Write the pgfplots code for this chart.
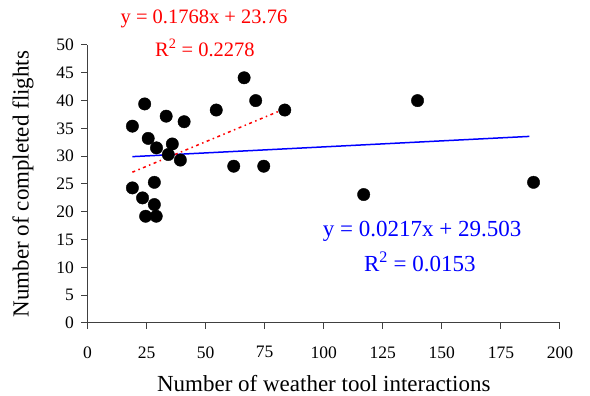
\documentclass[border=0pt]{standalone}
\usepackage{fontspec}
\setmainfont{Liberation Serif}
\usepackage{pgfplots}
\pgfplotsset{compat=1.18}
\begin{document}
\begin{tikzpicture}
\path[use as bounding box] (0,0) rectangle (590pt,396pt);
\begin{axis}[
  at={(87.5pt,73pt)}, anchor=origin,
  scale only axis, width=472.5pt, height=278pt,
  xmin=0, xmax=200, ymin=0, ymax=50,
  axis lines=left,
  axis line style={-, black!75, line width=1pt},
  xtick={0,25,...,200}, ytick={0,5,...,50},
  tick align=outside, major tick length=6pt,
  tick style={black!75, line width=1pt},
  /pgf/number format/assume math mode=true,
  tick label style={font=\fontsize{17.5}{20}\selectfont},
  xticklabel style={yshift=-14pt},
  yticklabel style={xshift=-4pt},
  xlabel={Number of weather tool interactions},
  ylabel={Number of completed flights},
  every axis x label/.style={at={(axis description cs:0.5,-0.2194)}, anchor=center, font=\fontsize{23}{26}\selectfont},
  every axis y label/.style={at={(axis description cs:-0.1365,0.5)}, rotate=90, anchor=center, font=\fontsize{23}{26}\selectfont},
  clip=false,
]
\addplot[only marks, mark=*, mark size=6.2pt, mark options={fill=black, draw=black}] coordinates {
(66.3,44.1) (71.2,40.0) (83.5,38.3) (54.5,38.3) (24.2,39.4) (33.3,37.2)
(40.9,36.2) (19.0,35.4) (25.7,33.2) (35.9,32.2) (29.2,31.5) (34.2,30.3)
(39.3,29.3) (61.9,28.2) (74.6,28.2) (28.3,25.3) (19.0,24.3) (23.3,22.5)
(28.3,21.3) (24.6,19.2) (29.1,19.2) (139.7,40.0) (116.9,23.1) (188.8,25.3)
};
\addplot[blue, line width=1.5pt] coordinates {(19,29.92) (187,33.56)};
\addplot[red, line width=1.5pt, dash pattern=on 3pt off 3.5pt on 1.5pt off 3.5pt] coordinates {(19,27.12) (84,38.61)};
\node[red, font=\fontsize{20.5}{22}\selectfont, anchor=center] at (axis cs:49.3,54.7) {y = 0.1768x + 23.76};
\node[red, font=\fontsize{20.5}{22}\selectfont, anchor=center] at (axis cs:49.7,49.5) {R\textsuperscript{2} = 0.2278};
\node[blue, font=\fontsize{23}{25}\selectfont, anchor=center] at (axis cs:141.6,16.4) {y = 0.0217x + 29.503};
\node[blue, font=\fontsize{23}{25}\selectfont, anchor=center] at (axis cs:140.7,11.0) {R\textsuperscript{2} = 0.0153};
\end{axis}
\end{tikzpicture}
\end{document}
